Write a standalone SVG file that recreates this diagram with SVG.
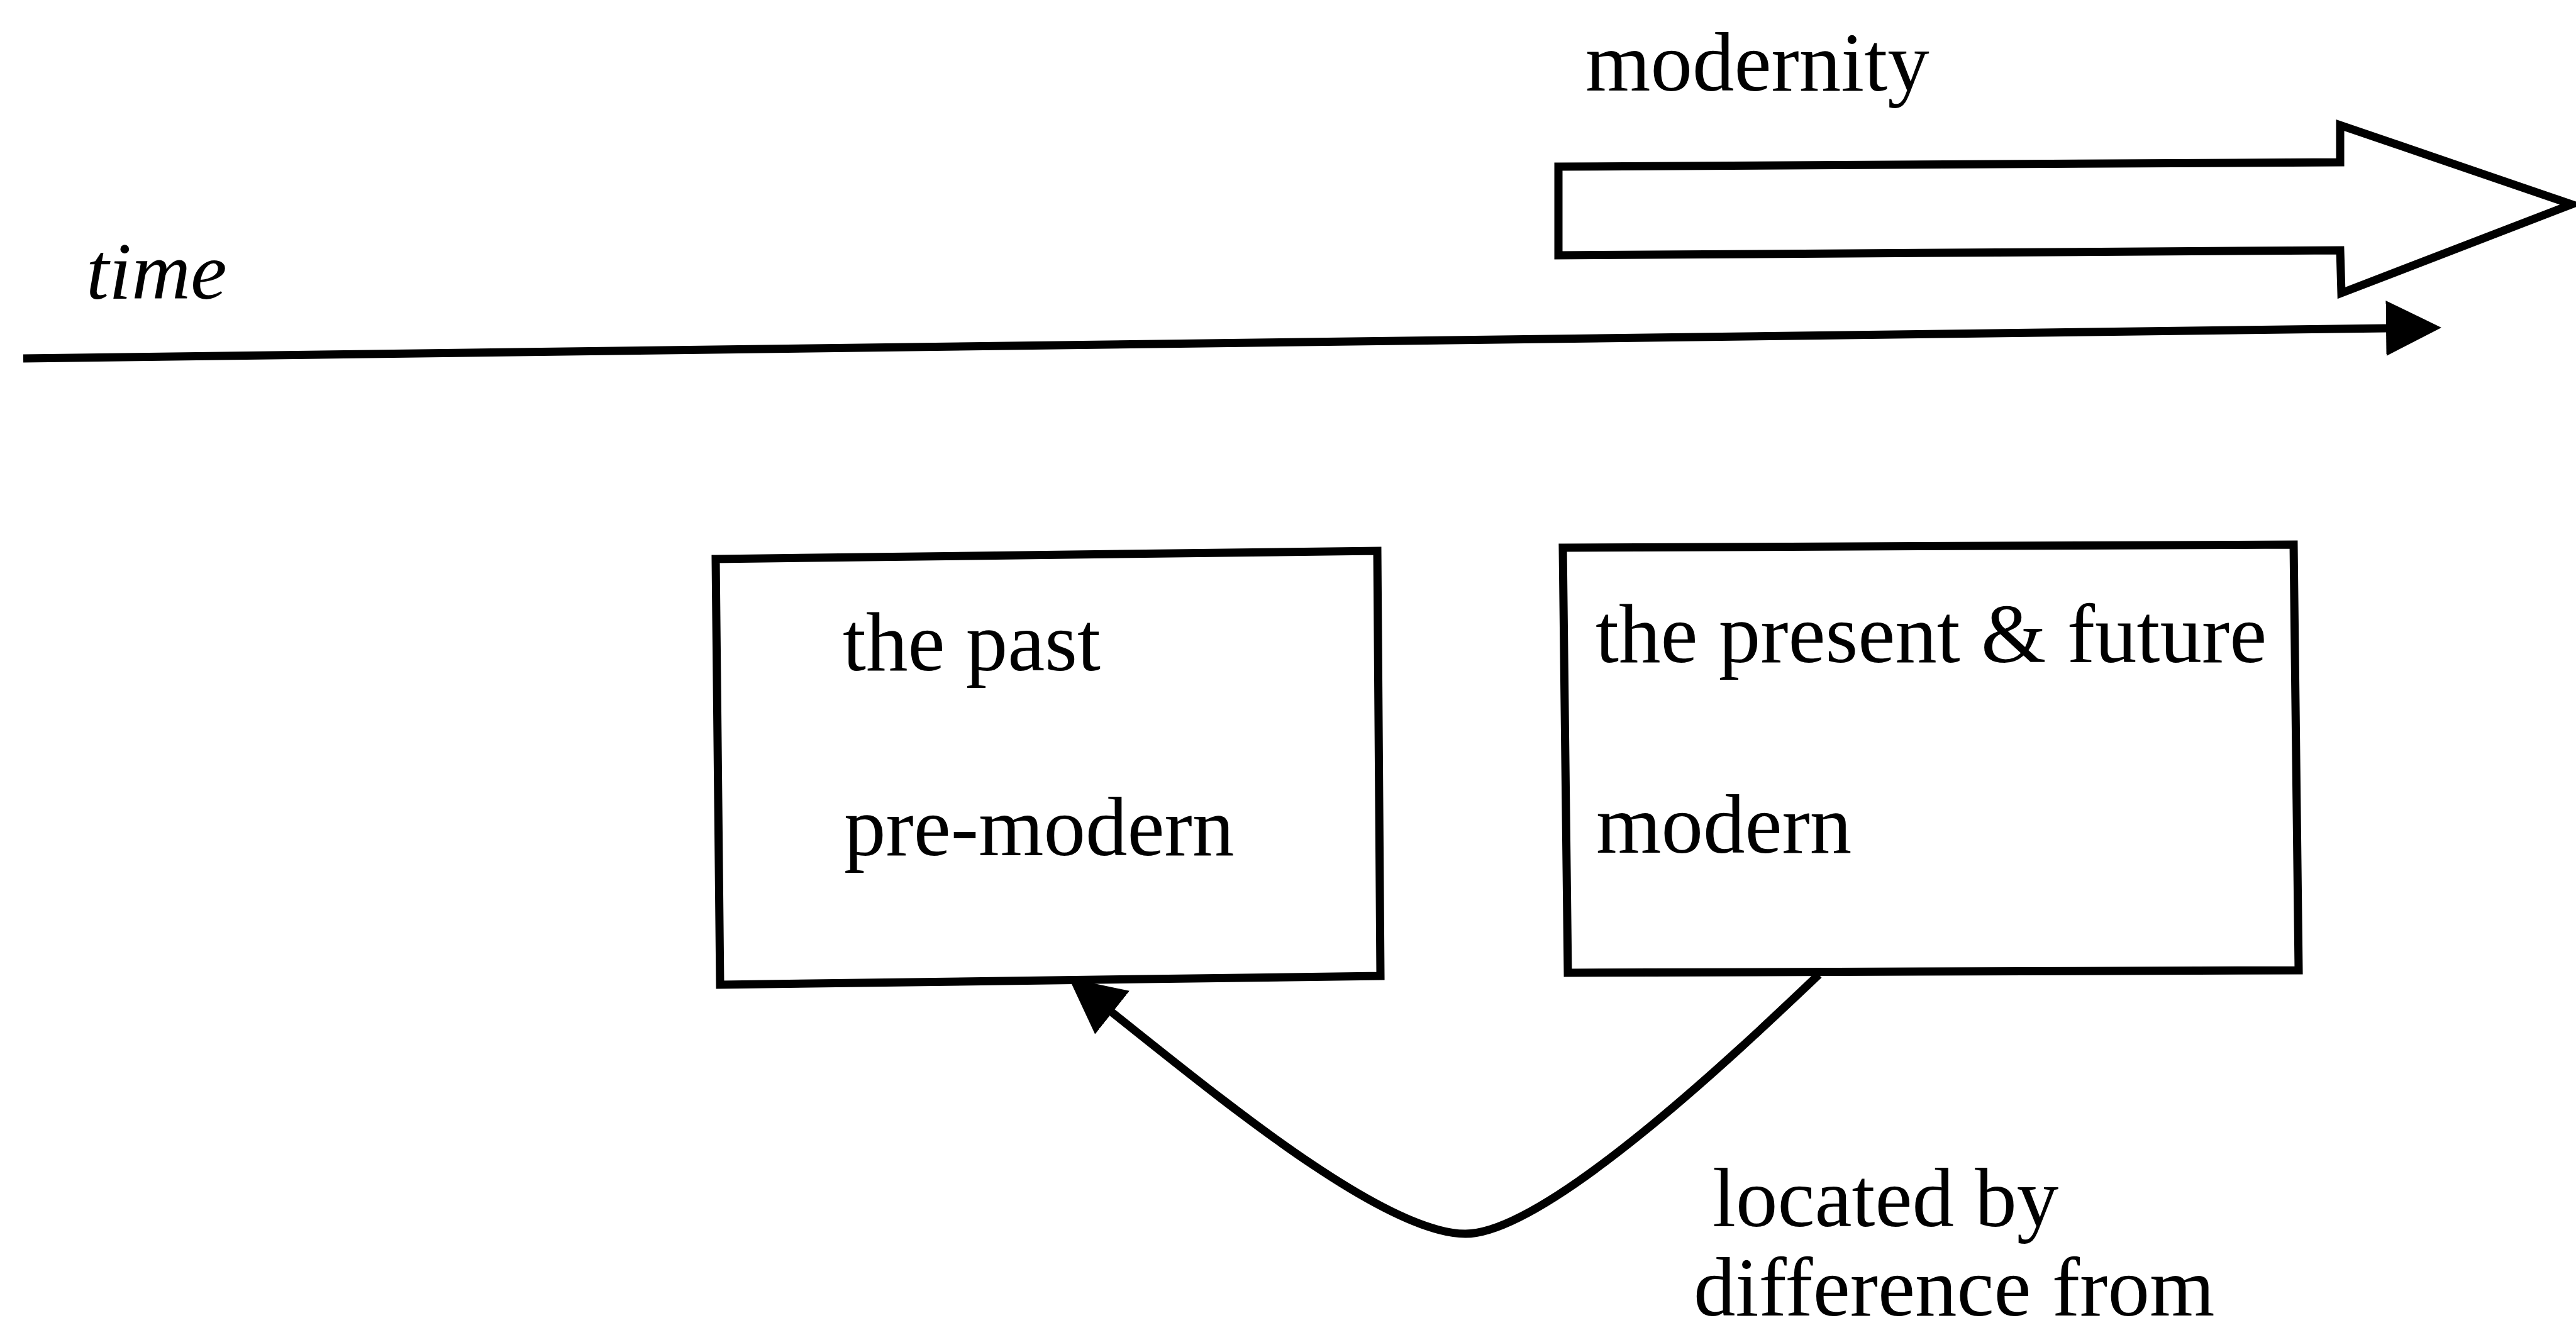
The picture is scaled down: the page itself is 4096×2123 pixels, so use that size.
<svg xmlns="http://www.w3.org/2000/svg" width="4096" height="2123" viewBox="0 0 4096 2123">
  <style>
    .txt { font-family: "Liberation Serif", "Times New Roman", serif; font-size: 133px; fill: #000; }
    .ital { font-style: italic; font-size: 130px; }
    .box { fill: #fff; stroke: #000; stroke-width: 13; stroke-linejoin: miter; }
    .line { fill: none; stroke: #000; stroke-width: 13; }
  </style>
  <defs>
    <marker id="head" markerUnits="userSpaceOnUse" viewBox="0 0 88 88" markerWidth="88" markerHeight="88" refX="2" refY="44" orient="auto">
      <path d="M0,0 L88,44 L0,88 Z" fill="#000"/>
    </marker>
  </defs>
  <rect width="4096" height="2123" fill="#fff"/>

  <!-- big hollow arrow labelled "modernity" -->
  <g id="modernity">
    <polygon class="box" points="2478,265 3721,258 3721,199 4089,325 3723,466 3721,398 2478,406"/>
    <text class="txt" x="2521" y="144">modernity</text>
  </g>

  <!-- time axis label -->
  <g id="time">
    <text class="txt ital" x="137" y="475">time</text>
  </g>

  <!-- left box -->
  <g id="past">
    <polygon class="box" points="1138,889 2190,876 2195,1552 1145,1566"/>
    <text class="txt" x="1340" y="1066">the past</text>
    <text class="txt" x="1342" y="1360">pre-modern</text>
  </g>

  <!-- right box -->
  <g id="present">
    <polygon class="box" points="2485,871 3647,866 3655,1543 2493,1547"/>
    <text class="txt" x="2537" y="1053">the present &amp; future</text>
    <text class="txt" x="2538" y="1356">modern</text>
  </g>

  <!-- curve label -->
  <g id="relation-label">
    <text class="txt" x="2723" y="1950">located by</text>
    <text class="txt" x="2693" y="2092">difference from</text>
  </g>

  <!-- connectors -->
  <g id="connectors">
    <path class="line" d="M37,570 L3796,522" marker-end="url(#head)"/>
    <path class="line" d="M2892,1550 C2772,1664 2460,1962 2330,1962 C2200,1962 1937,1744 1767,1609" marker-end="url(#head)"/>
  </g>
</svg>
